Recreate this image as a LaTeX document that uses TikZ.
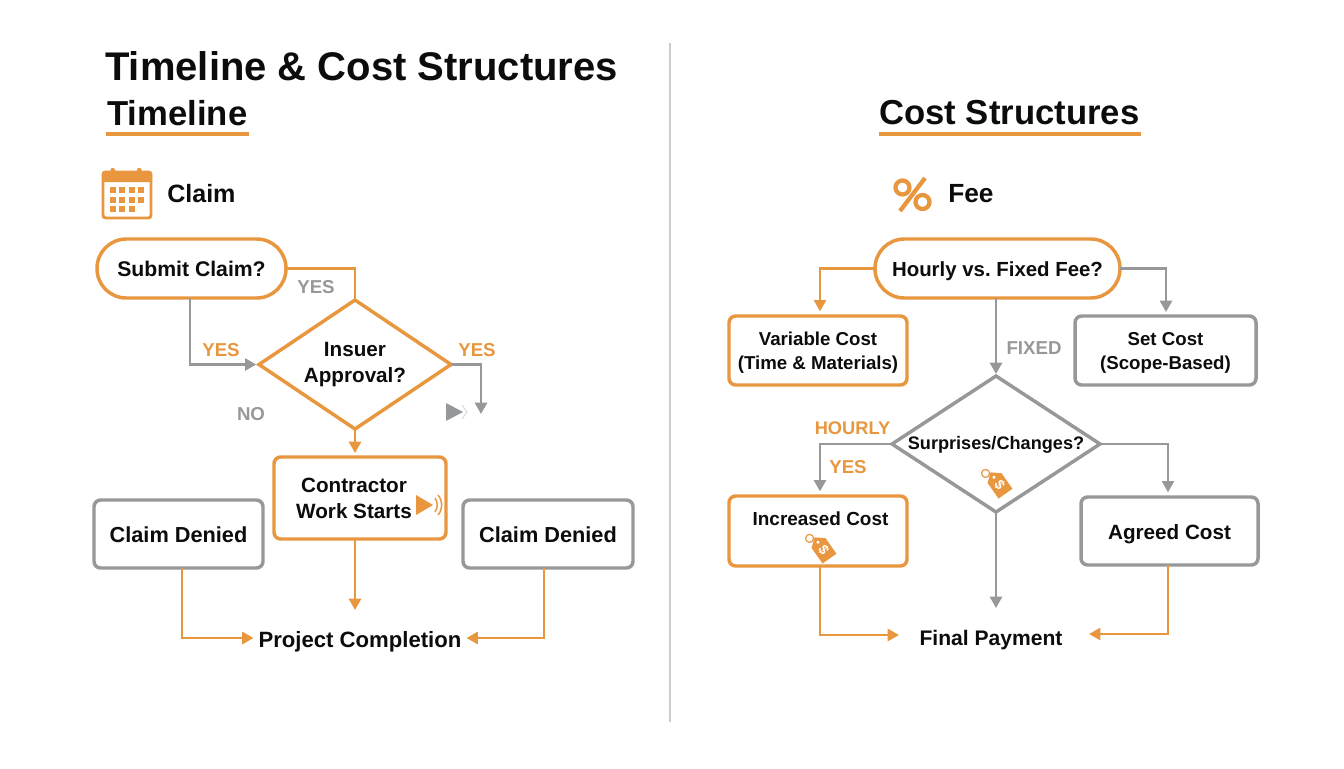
\documentclass[tikz,border=0pt]{standalone}
\usepackage{fontspec}
\setmainfont{Liberation Sans}
\usetikzlibrary{arrows.meta,shapes.geometric}
\definecolor{org}{HTML}{E8973F}
\definecolor{gry}{HTML}{97989A}
\definecolor{ink}{HTML}{0C0C0C}
\newcommand{\pxx}[1]{#1*0.75pt}
\newcommand{\fsz}[1]{\fontsize{#1pt}{18pt}\selectfont}
\newcommand{\mline}[1]{\smash{\raisebox{-5.5pt}{\begin{tabular}{@{}c@{}}#1\end{tabular}}}}
\frenchspacing
\tikzset{
  px/.style={x=0.75pt,y=-0.75pt},
  ln/.style={line width=2.0pt,line join=miter},
  oline/.style={ln,draw=org},
  gline/.style={ln,draw=gry},
  oarrow/.style={oline,-{Triangle[length=8.5pt,width=9pt]}},
  garrow/.style={gline,-{Triangle[length=8.5pt,width=9pt]}},
  txt/.style={font=\bfseries\fontsize{15.5pt}{19.5pt}\selectfont,text=ink,align=center,inner sep=0pt,outer sep=0pt},
  one/.style={text height=12.6pt,text depth=0.6pt},
  pill/.style={txt,draw=org,line width=2.6pt,fill=white,rounded corners=22pt},
  obox/.style={txt,draw=org,line width=2.6pt,fill=white,rounded corners=5pt},
  gbox/.style={txt,draw=gry,line width=2.6pt,fill=white,rounded corners=5pt},
  dia/.style={diamond,txt,fill=white,line width=2.6pt,inner sep=0pt,shape aspect=1.5},
  olab/.style={font=\bfseries\fontsize{14pt}{16pt}\selectfont,text=org,inner sep=0pt},
  glab/.style={font=\bfseries\fontsize{14pt}{16pt}\selectfont,text=gry,inner sep=0pt},
  h1/.style={font=\bfseries\fontsize{30pt}{32pt}\selectfont,text=ink,inner sep=0pt},
  h2/.style={font=\bfseries\fontsize{26pt}{28pt}\selectfont,text=ink,inner sep=0pt},
  h3/.style={font=\bfseries\fontsize{18.8pt}{20pt}\selectfont,text=ink,inner sep=0pt},
  rule/.style={draw=org,line width=3pt},
  pics/pricetag/.style={code={
    \draw[draw=org,line width=0.9pt] (-15,4.7) circle[radius=4];
    \fill[org] (-13,0) -- (-6,-8.5) -- (13,-8.5) -- (13,8.5) -- (-6,8.5) -- cycle;
    \fill[white] (-7,0) circle[radius=1.8];
    \node[transform shape,font=\bfseries\fontsize{10.5pt}{11pt}\selectfont,text=white,inner sep=0pt] at (3,0) {\$};
  }}
}
\begin{document}
\begin{tikzpicture}[px]
\useasboundingbox (0,0) rectangle (1344,768);
\fill[white] (0,0) rectangle (1344,768);
% divider
\coordinate (divtop) at (670,43);
\coordinate (divbot) at (670,722);
\draw[draw=black!20,line width=1.6pt] (divtop) -- (divbot);
% headings
\node[h1,anchor=west] (title) at (105,66) {Timeline \& Cost Structures};
\node[h2,anchor=west] (tl) at (107,113) {Timeline};
\node[h2,anchor=west] (cs) at (879,113) {Cost Structures};
\coordinate (r1a) at (106,134); \coordinate (r1b) at (249,134);
\coordinate (r2a) at (879,134); \coordinate (r2b) at (1141,134);
\draw[rule] (r1a) -- (r1b);
\draw[rule] (r2a) -- (r2b);
\node[h3,anchor=west] (claim) at (167,194) {Claim};
\node[h3,anchor=west,font=\bfseries\fontsize{19.7pt}{21pt}\selectfont] (fee) at (948,194) {Fee};
% calendar icon
\draw[draw=org,line width=2.2pt,rounded corners=2pt] (103,172) rectangle (151,218);
\fill[org,rounded corners=2pt] (102,171) rectangle (152,182);
\fill[org,rounded corners=1pt] (110.5,168) rectangle (115,176);
\fill[org,rounded corners=1pt] (137,168) rectangle (141.5,176);
\foreach \yy in {187,197,206}{
  \foreach \xx in {109.5,119,129}{\fill[org] (\xx,\yy) rectangle ++(6.3,5.8);}
}
\foreach \yy in {187,197}{\fill[org] (138,\yy) rectangle ++(6.3,5.8);}
% percent icon
\draw[draw=org,line width=3.2pt] (902.5,187.5) circle[radius=7];
\draw[draw=org,line width=3.2pt] (922.5,202) circle[radius=7];
\draw[draw=org,line width=3.2pt] (925,178) -- (900,211);
% LEFT FLOW nodes
\node[pill,one,font=\bfseries\fsz{15.9},minimum width=\pxx{189},minimum height=\pxx{59}] (submit) at (191.5,268.5) {Submit Claim?};
\node[dia,draw=org,minimum width=\pxx{192},minimum height=\pxx{129}] (insurer) at (355,364.5) {\makebox[0pt]{\begin{tabular}{@{}c@{}}Insuer\\Approval?\end{tabular}}};
\node[obox,minimum width=\pxx{172},minimum height=\pxx{82}] (contractor) at (360,498) {\mline{Contractor\\Work Starts}\hspace*{9pt}};
\node[gbox,one,font=\bfseries\fsz{16.3},minimum width=\pxx{169},minimum height=\pxx{68}] (deniedL) at (178.5,534) {Claim Denied};
\node[gbox,one,font=\bfseries\fsz{16.3},minimum width=\pxx{170},minimum height=\pxx{68}] (deniedR) at (548,534) {Claim Denied};
\node[txt,one,font=\bfseries\fsz{16.6}] (project) at (360,639) {Project Completion};
% LEFT FLOW connectors
\draw[oline] (submit.east) -| (insurer.north);
\node[glab] (yes1) at (316,287) {YES};
\coordinate (a2) at (190,364.5);
\draw[garrow,shorten >=2pt] (submit.south -| a2) -- (a2) -- (insurer.west);
\node[olab] (yes2) at (221,350) {YES};
\node[olab] (yes3) at (477,350) {YES};
\coordinate (a3) at (481,364.5); \coordinate (a4) at (481,414);
\draw[garrow] (insurer.east) -- (a3) -- (a4);
\node[glab] (no) at (251,414) {NO};
\fill[gry] (446,403) -- (463,412) -- (446,421) -- cycle;
\draw[draw=black!15,line width=0.7pt] (462,405) -- (467,412) -- (462,419);
\draw[oarrow,shorten >=3pt] (insurer.south) -- (contractor.north -| insurer.south);
% speaker icon
\fill[org] (416,495) -- (433,505) -- (416,515) -- cycle;
\draw[draw=org,line width=1.1pt] (435,498) .. controls (438,502) and (438,508) .. (435,512);
\draw[draw=org,line width=1.1pt] (438,495) .. controls (443,501) and (443,509) .. (438,515);
\coordinate (a5) at (355,610);
\draw[oarrow] (contractor.south -| a5) -- (a5);
\coordinate (a6) at (182,638); \coordinate (a7) at (544,638);
\draw[oarrow,shorten >=3.75pt] (deniedL.south -| a6) -- (a6) -- (project.west |- a6);
\draw[oarrow,shorten >=3.75pt] (deniedR.south -| a7) -- (a7) -- (project.east |- a7);
% RIGHT FLOW nodes
\node[pill,one,font=\bfseries\fsz{15.3},minimum width=\pxx{245},minimum height=\pxx{59}] (hourly) at (997.5,268.5) {Hourly vs. Fixed Fee?};
\node[obox,font=\bfseries\fsz{14},minimum width=\pxx{178},minimum height=\pxx{69}] (variable) at (818,350.5) {\mline{Variable Cost\\(Time \& Materials)}};
\node[gbox,font=\bfseries\fsz{14},minimum width=\pxx{181},minimum height=\pxx{69}] (setcost) at (1165.5,350.5) {\mline{Set Cost\\(Scope-Based)}};
\node[dia,draw=gry,minimum width=\pxx{208},minimum height=\pxx{136}] (surprises) at (996,444) {\makebox[0pt]{\smash{\raisebox{-4.4pt}{\fsz{13.6}Surprises/Changes?}}}};
\node[obox,minimum width=\pxx{178},minimum height=\pxx{70}] (increased) at (818,531) {\makebox[0pt]{\smash{\hspace*{3.75pt}\raisebox{4pt}{\fsz{14.2}Increased Cost}}}};
\node[gbox,one,minimum width=\pxx{177},minimum height=\pxx{68}] (agreed) at (1169.5,531) {Agreed Cost};
\node[txt,one,font=\bfseries\fsz{15.8}] (final) at (991,637) {Final Payment};
% RIGHT FLOW connectors
\coordinate (b1) at (820,268.5); \coordinate (b2) at (1166,268.5);
\draw[oarrow,shorten >=3.5pt] (hourly.west) -- (b1) -- (variable.north -| b1);
\draw[garrow,shorten >=3pt] (hourly.east) -- (b2) -- (setcost.north -| b2);
\draw[garrow,shorten >=1.5pt] (hourly.south -| surprises.north) -- (surprises.north);
\node[glab] (fixed) at (1034,348) {FIXED};
\node[olab,font=\bfseries\fsz{13.7}] (hourlylab) at (852.5,428) {HOURLY};
\node[olab] (yes4) at (848,467) {YES};
\coordinate (b3) at (820,444); \coordinate (b4) at (1168,444);
\draw[garrow,shorten >=3.5pt] (surprises.west) -- (b3) -- (increased.north -| b3);
\draw[garrow,shorten >=3.5pt] (surprises.east) -- (b4) -- (agreed.north -| b4);
\coordinate (b5) at (996,608);
\draw[garrow] (surprises.south) -- (b5);
\coordinate (b6) at (820,635); \coordinate (b7) at (1168,634);
\coordinate (b8) at (899,635); \coordinate (b9) at (1089,634);
\draw[oarrow] (increased.south -| b6) -- (b6) -- (b8);
\draw[oarrow] (agreed.south -| b7) -- (b7) -- (b9);
% price tags
\pic[rotate=-55] at (822,548) {pricetag};
\pic[rotate=-55] at (998,483) {pricetag};
\end{tikzpicture}
\end{document}
